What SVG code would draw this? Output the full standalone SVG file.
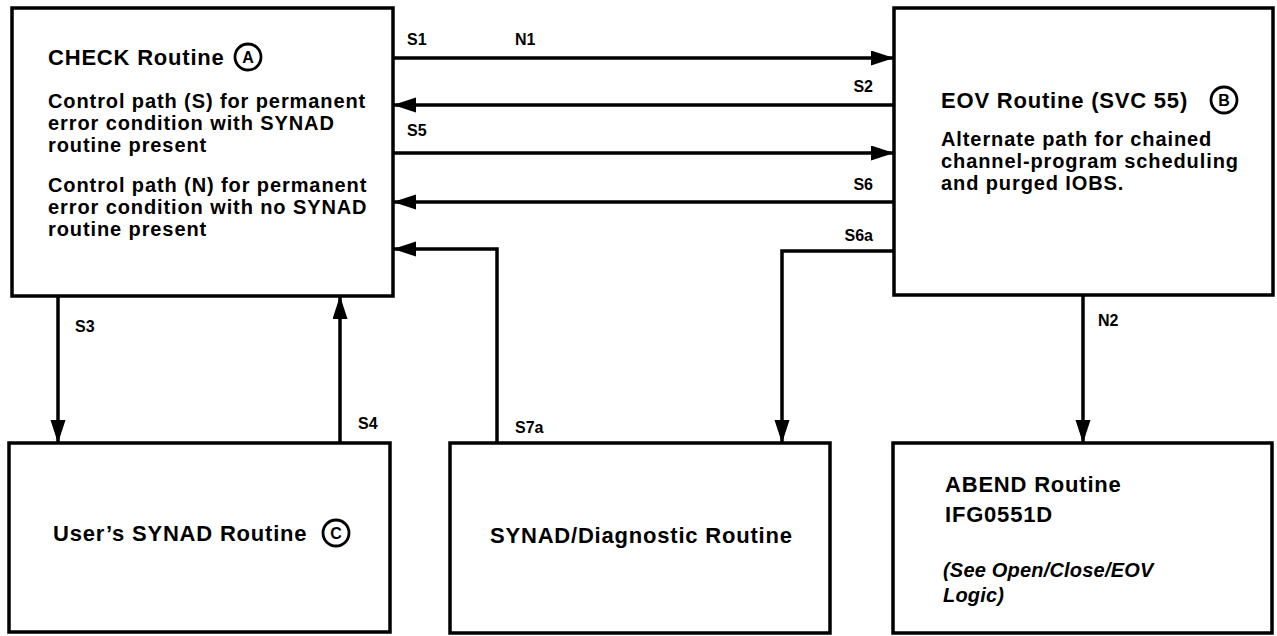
<svg xmlns="http://www.w3.org/2000/svg" width="1277" height="636" viewBox="0 0 1277 636">
<style>
.box{fill:#fff;stroke:#000;stroke-width:3.5}
.t{font-family:"Liberation Sans",Arial,sans-serif;font-weight:bold;fill:#000}
.title{font-size:22px;letter-spacing:0.8px}
.body{font-size:20px;letter-spacing:0.9px}
.lbl{font-size:16px}
.cl{font-size:16px}
.it{font-style:italic;font-size:20px;letter-spacing:0.2px}
.ln{fill:none;stroke:#000;stroke-width:3.5}
.circ{fill:none;stroke:#000;stroke-width:2.8}
</style>
<defs>
<marker id="ah" markerUnits="userSpaceOnUse" markerWidth="24" markerHeight="16" refX="23" refY="7.5" orient="auto">
<path d="M0,0 L23,7.5 L0,15 z" fill="#000"/>
</marker>
</defs>
<rect width="1277" height="636" fill="#fff"/>
<g id="check">
<rect class="box" x="12" y="8" width="381" height="288"/>
<text class="t title" x="48" y="65">CHECK Routine</text>
<circle class="circ" cx="248" cy="57" r="13"/>
<text class="t cl" x="248" y="63" text-anchor="middle">A</text>
<text class="t body" x="48" y="108">Control path (S) for permanent</text>
<text class="t body" x="48" y="130">error condition with SYNAD</text>
<text class="t body" x="48" y="152">routine present</text>
<text class="t body" x="48" y="192">Control path (N) for permanent</text>
<text class="t body" x="48" y="214">error condition with no SYNAD</text>
<text class="t body" x="48" y="236">routine present</text>
</g>
<g id="eov">
<rect class="box" x="894" y="8" width="379" height="287"/>
<text class="t title" x="941" y="108">EOV Routine (SVC 55)</text>
<circle class="circ" cx="1224" cy="100" r="13"/>
<text class="t cl" x="1224" y="106" text-anchor="middle">B</text>
<text class="t body" x="941" y="146">Alternate path for chained</text>
<text class="t body" x="941" y="168">channel-program scheduling</text>
<text class="t body" x="941" y="190">and purged IOBS.</text>
</g>
<g id="usersynad">
<rect class="box" x="9" y="443" width="381" height="189"/>
<text class="t title" x="53" y="541">User’s SYNAD Routine</text>
<circle class="circ" cx="336" cy="533" r="13"/>
<text class="t cl" x="336" y="539" text-anchor="middle">C</text>
</g>
<g id="diag">
<rect class="box" x="450" y="443" width="380" height="190"/>
<text class="t title" x="490" y="543">SYNAD/Diagnostic Routine</text>
</g>
<g id="abend">
<rect class="box" x="893" y="443" width="379" height="190"/>
<text class="t title" x="945" y="492">ABEND Routine</text>
<text class="t title" x="945" y="522">IFG0551D</text>
<text class="t it" x="943" y="577">(See Open/Close/EOV</text>
<text class="t it" x="943" y="602">Logic)</text>
</g>
<g id="connectors">
<line class="ln" x1="393" y1="58" x2="894" y2="58" marker-end="url(#ah)"/>
<line class="ln" x1="894" y1="105" x2="393" y2="105" marker-end="url(#ah)"/>
<line class="ln" x1="393" y1="153" x2="894" y2="153" marker-end="url(#ah)"/>
<line class="ln" x1="894" y1="202" x2="393" y2="202" marker-end="url(#ah)"/>
<polyline class="ln" points="497,443 497,249 393,249" marker-end="url(#ah)"/>
<polyline class="ln" points="894,251 782,251 782,443" marker-end="url(#ah)"/>
<line class="ln" x1="58" y1="296" x2="58" y2="443" marker-end="url(#ah)"/>
<line class="ln" x1="340" y1="443" x2="340" y2="296" marker-end="url(#ah)"/>
<line class="ln" x1="1083" y1="295" x2="1083" y2="443" marker-end="url(#ah)"/>
<text class="t lbl" x="407" y="45">S1</text>
<text class="t lbl" x="515" y="45">N1</text>
<text class="t lbl" x="873" y="92" text-anchor="end">S2</text>
<text class="t lbl" x="407" y="136">S5</text>
<text class="t lbl" x="873" y="190" text-anchor="end">S6</text>
<text class="t lbl" x="873" y="241" text-anchor="end">S6a</text>
<text class="t lbl" x="75" y="332">S3</text>
<text class="t lbl" x="358" y="429">S4</text>
<text class="t lbl" x="515" y="433">S7a</text>
<text class="t lbl" x="1098" y="326">N2</text>
</g>
</svg>
